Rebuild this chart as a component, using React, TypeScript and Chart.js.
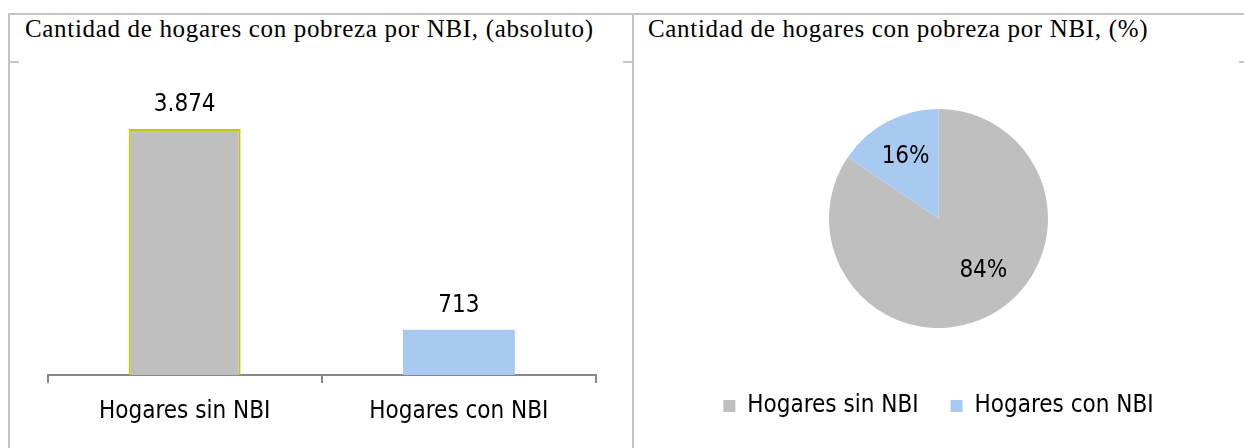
import React, { useEffect, useRef } from "react";
import { Chart, registerables } from "chart.js";

Chart.register(...registerables);

// ---- data ----
const categories = ["Hogares sin NBI", "Hogares con NBI"];
const householdCounts = [3874, 713];
const sliceColors = ["#bfbfbf", "#a9caf0"];
const barBorderColors = ["#c8c800", "rgba(0,0,0,0)"];
const barBorderWidths = [2, 0];
const yAxisMax = 4500;
const titleAbsolute = "Cantidad de hogares con pobreza por NBI, (absoluto)";
const titlePercent = "Cantidad de hogares con pobreza por NBI, (%)";

// ---- style ----
const SANS = "'DejaVu Sans Condensed', 'DejaVu Sans', sans-serif";
const LABEL_SIZE = 24;
// Excel "best fit" nudges the large slice's label a little off its mid-angle
const pieLabelAngleShiftDeg = [-12.6, 0];
const pieLabelRadiusFactor = [0.63, 0.64];

function formatThousands(v: number): string {
  return String(Math.round(v)).replace(/\B(?=(\d{3})+(?!\d))/g, ".");
}

const barValueLabels = {
  id: "barValueLabels",
  afterDatasetsDraw(chart: any) {
    const { ctx } = chart;
    const meta = chart.getDatasetMeta(0);
    const values = chart.data.datasets[0].data as number[];
    ctx.save();
    ctx.font = `${LABEL_SIZE}px ${SANS}`;
    ctx.fillStyle = "#000";
    ctx.textAlign = "center";
    ctx.textBaseline = "middle";
    meta.data.forEach((bar: any, i: number) => {
      const { x, y } = bar.getProps(["x", "y"], true);
      ctx.fillText(formatThousands(values[i]), x, y - 24);
    });
    ctx.restore();
  },
};

const pieValueLabels = {
  id: "pieValueLabels",
  afterDatasetsDraw(chart: any) {
    const { ctx } = chart;
    const meta = chart.getDatasetMeta(0);
    const values = chart.data.datasets[0].data as number[];
    const total = values.reduce((a, b) => a + b, 0);
    ctx.save();
    ctx.font = `${LABEL_SIZE}px ${SANS}`;
    ctx.fillStyle = "#000";
    ctx.textAlign = "center";
    ctx.textBaseline = "middle";
    meta.data.forEach((arc: any, i: number) => {
      const { x, y, startAngle, endAngle, outerRadius } = arc.getProps(
        ["x", "y", "startAngle", "endAngle", "outerRadius"],
        true
      );
      const mid = (startAngle + endAngle) / 2 + (pieLabelAngleShiftDeg[i] * Math.PI) / 180;
      const r = outerRadius * pieLabelRadiusFactor[i];
      const pct = Math.round((values[i] / total) * 100) + "%";
      ctx.fillText(pct, x + Math.cos(mid) * r, y + Math.sin(mid) * r);
    });
    ctx.restore();
  },
};

const lineColor = "#c4c4c4";

export default function App() {
  const barRef = useRef<HTMLCanvasElement>(null);
  const pieRef = useRef<HTMLCanvasElement>(null);

  useEffect(() => {
    const bar = new Chart(barRef.current as HTMLCanvasElement, {
      type: "bar",
      data: {
        labels: categories,
        datasets: [
          {
            data: householdCounts,
            backgroundColor: sliceColors,
            borderColor: barBorderColors,
            borderWidth: barBorderWidths,
            borderSkipped: "start",
            barPercentage: 0.408,
            categoryPercentage: 1,
          },
        ],
      },
      options: {
        responsive: false,
        animation: false,
        layout: { padding: { left: 28.6, right: 27, top: 27.3, bottom: 21 } },
        plugins: { legend: { display: false }, tooltip: { enabled: false } },
        scales: {
          x: {
            grid: {
              display: true,
              drawOnChartArea: false,
              drawTicks: true,
              tickLength: 8,
              color: "#878787",
              lineWidth: 2,
              offset: true,
            },
            border: { display: true, color: "#878787", width: 2 },
            ticks: {
              color: "#000",
              font: { size: LABEL_SIZE, family: SANS },
              padding: 14.6,
              maxRotation: 0,
            },
          },
          y: { display: false, min: 0, max: yAxisMax },
        },
      } as any,
      plugins: [barValueLabels],
    });

    const pie = new Chart(pieRef.current as HTMLCanvasElement, {
      type: "pie",
      data: {
        labels: categories,
        datasets: [
          {
            data: householdCounts,
            backgroundColor: sliceColors,
            borderWidth: 0,
            radius: 109.5,
          } as any,
        ],
      },
      options: {
        responsive: false,
        animation: false,
        layout: { padding: { top: 13, bottom: 20, left: 4, right: 0 } },
        plugins: {
          legend: {
            position: "bottom",
            labels: {
              boxWidth: 12,
              boxHeight: 12,
              padding: 32,
              color: "#000",
              font: { size: LABEL_SIZE, family: SANS },
            },
          },
          tooltip: { enabled: false },
        },
      } as any,
      plugins: [pieValueLabels],
    });

    return () => {
      bar.destroy();
      pie.destroy();
    };
  }, []);

  const titleStyle: React.CSSProperties = {
    position: "absolute",
    top: 16,
    fontFamily: "'Liberation Serif', 'Times New Roman', serif",
    fontSize: 25,
    lineHeight: "25px",
    letterSpacing: "0.67px",
    color: "#000",
    whiteSpace: "nowrap",
  };
  const line = (l: number, t: number, w: number, h: number): React.CSSProperties => ({
    position: "absolute",
    left: l,
    top: t,
    width: w,
    height: h,
    background: lineColor,
  });

  return (
    <div
      style={{
        position: "fixed",
        left: 0,
        top: 0,
        width: 1244,
        height: 448,
        overflow: "hidden",
        background: "#fff",
      }}
    >
      <div style={line(8, 13, 1236, 2)} />
      <div style={line(8, 13, 2, 440)} />
      <div style={line(632, 13, 2, 440)} />
      <div style={line(8, 61, 11, 2)} />
      <div style={line(623, 61, 9, 2)} />
      <div style={line(1239, 61, 5, 2)} />
      <div style={{ ...titleStyle, left: 25 }}>{titleAbsolute}</div>
      <div style={{ ...titleStyle, left: 648 }}>{titlePercent}</div>
      <canvas
        ref={barRef}
        width={604}
        height={400}
        style={{ position: "absolute", left: 19, top: 62, width: 604, height: 400 }}
      />
      <canvas
        ref={pieRef}
        width={605}
        height={386}
        style={{ position: "absolute", left: 634, top: 62, width: 605, height: 386 }}
      />
    </div>
  );
}
